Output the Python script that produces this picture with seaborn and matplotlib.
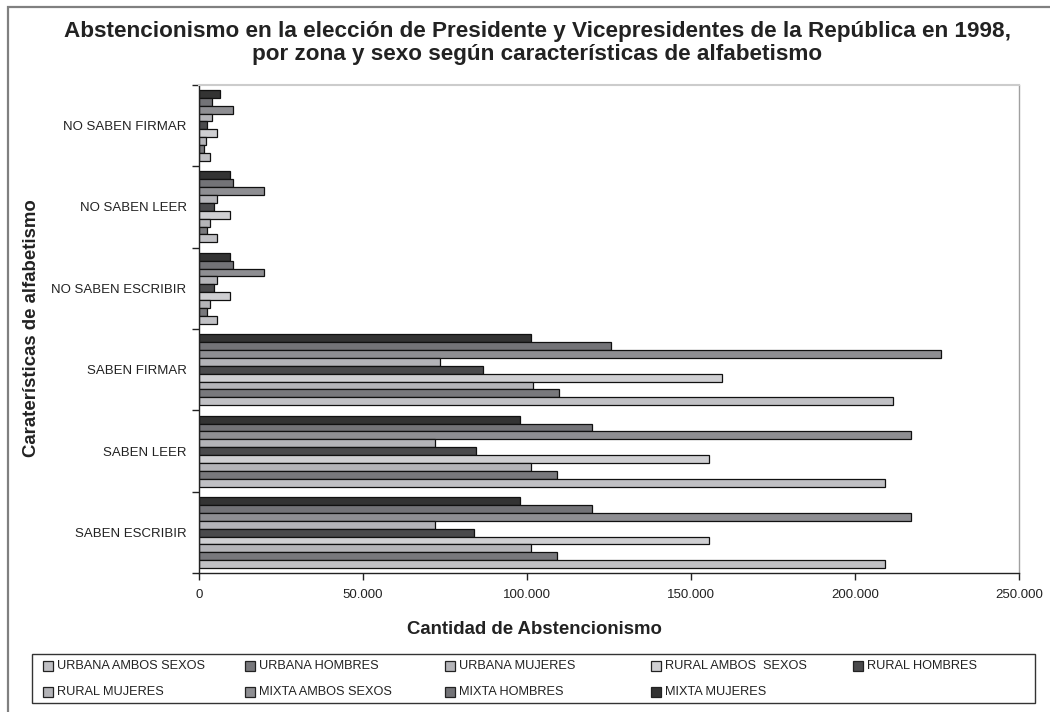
import matplotlib
matplotlib.use("Agg")
import matplotlib.pyplot as plt
from matplotlib.patches import Rectangle
from matplotlib.ticker import FuncFormatter
import seaborn as sns
import pandas as pd

sns.set_theme(style="white")
plt.rcParams['font.family'] = ['Liberation Sans', 'DejaVu Sans']

categories = ["NO SABEN FIRMAR", "NO SABEN LEER", "NO SABEN ESCRIBIR",
              "SABEN FIRMAR", "SABEN LEER", "SABEN ESCRIBIR"]

series = ["URBANA AMBOS SEXOS", "URBANA HOMBRES", "URBANA MUJERES",
          "RURAL AMBOS  SEXOS", "RURAL HOMBRES", "RURAL MUJERES",
          "MIXTA AMBOS SEXOS", "MIXTA HOMBRES", "MIXTA MUJERES"]

urbana_ambos = [3300, 5500, 5600, 211400, 209000, 209000]
urbana_hombres = [1400, 2300, 2300, 109600, 109000, 109000]
urbana_mujeres = [2200, 3300, 3300, 101700, 101100, 101100]
rural_ambos = [5500, 9500, 9400, 159300, 155400, 155400]
rural_hombres = [2300, 4700, 4700, 86700, 84400, 83700]
rural_mujeres = [4000, 5500, 5500, 73300, 71800, 71800]
mixta_ambos = [10300, 19700, 19800, 226200, 217000, 217000]
mixta_hombres = [4000, 10300, 10300, 125500, 119900, 119900]
mixta_mujeres = [6400, 9600, 9600, 101100, 97900, 97900]

colors = ["#c0c0c4", "#78787c", "#b4b4b8", "#cfcfd2", "#4a4a4c",
          "#b4b4b8", "#8e8e92", "#737377", "#333333"]

values = [urbana_ambos, urbana_hombres, urbana_mujeres, rural_ambos,
          rural_hombres, rural_mujeres, mixta_ambos, mixta_hombres, mixta_mujeres]

rows = []
for s, vals in zip(series, values):
    for c, v in zip(categories, vals):
        rows.append({"cat": c, "serie": s, "val": v})
df = pd.DataFrame(rows)

palette = dict(zip(series, colors))
hue_order = series[::-1]

fig = plt.figure(figsize=(10.5, 7.12), dpi=100)
ax = fig.add_axes([199/1050, 1-573.3/712, (1019.3-199)/1050, (573.3-84.7)/712])

sns.barplot(data=df, y="cat", x="val", hue="serie", order=categories,
            hue_order=hue_order, palette=palette, orient="h", width=0.87,
            edgecolor="#111111", linewidth=0.9, saturation=1, legend=False, ax=ax, errorbar=None)

ax.set_xlim(0, 250000)
ax.set_ylim(5.5, -0.5)
ax.set_xticks(range(0, 250001, 50000))
ax.xaxis.set_major_formatter(FuncFormatter(lambda v, p: f"{int(v):,}".replace(",", ".")))
ax.set_yticks(range(len(categories)))
ax.set_yticklabels(categories)
ax.set_yticks([i - 0.5 for i in range(len(categories) + 1)], minor=True)
ax.tick_params(axis="y", which="major", length=0, pad=9, labelsize=9.5, labelcolor="#222222")
ax.tick_params(axis="y", which="minor", length=5, width=1, color="#222222", left=True)
ax.tick_params(axis="x", which="major", length=5, width=1, color="#222222", bottom=True,
               labelsize=9.5, labelcolor="#222222", pad=6)
ax.set_xlabel("")
ax.set_ylabel("")
ax.grid(False)
for side in ["left", "bottom"]:
    ax.spines[side].set_color("#222222")
    ax.spines[side].set_linewidth(1.0)
ax.spines["top"].set_color("#cccccc")
ax.spines["top"].set_linewidth(1.5)
ax.spines["right"].set_color("#a0a0a0")
ax.spines["right"].set_linewidth(1.0)

fig.text(537/1050, 1-31/712, "Abstencionismo en la elección de Presidente y Vicepresidentes de la República en 1998,",
         ha="center", va="center", fontsize=16.2, fontweight="bold", color="#222222")
fig.text(537/1050, 1-54.5/712, "por zona y sexo según características de alfabetismo",
         ha="center", va="center", fontsize=16.2, fontweight="bold", color="#222222")
fig.text(534/1050, 1-629/712, "Cantidad de Abstencionismo", ha="center", va="center",
         fontsize=13.4, fontweight="bold", color="#222222")
fig.text(32/1050, 1-328/712, "Caraterísticas de alfabetismo", ha="center", va="center",
         rotation=90, fontsize=13.4, fontweight="bold", color="#222222")

# outer chart border
fig.patches.append(Rectangle((8/1050, -0.05), 1.1, 1-7/712 + 0.05, transform=fig.transFigure,
                             fill=False, edgecolor="#808080", linewidth=1.6))

# legend box
W, H = 1050, 712
fig.patches.append(Rectangle((32/W, 1-703/H), (1035-32)/W, (703-654)/H, transform=fig.transFigure,
                             fill=False, edgecolor="#333333", linewidth=1.0))
col_x = [43, 245, 445, 651, 853]
row_y = [666, 692]
for i, (s, c) in enumerate(zip(series, colors)):
    r, k = divmod(i, 5)
    x0, y0 = col_x[k], row_y[r]
    fig.patches.append(Rectangle((x0/W, 1-(y0+5)/H), 10/W, 10/H, transform=fig.transFigure,
                                 facecolor=c, edgecolor="#222222", linewidth=0.9))
    fig.text((x0+14)/W, 1-y0/H, s, ha="left", va="center", fontsize=9.2, color="#222222")

fig.savefig("out.png", dpi=100)
